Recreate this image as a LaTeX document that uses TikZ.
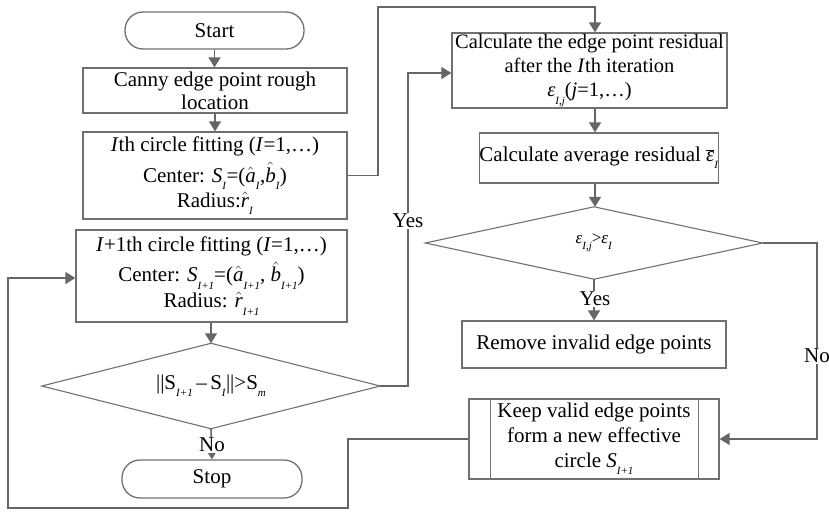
\documentclass[tikz,border=0pt]{standalone}
\usepackage{fontspec}
\setmainfont{Liberation Serif}
\usetikzlibrary{arrows.meta}
\definecolor{ln}{HTML}{666666}
\definecolor{bx}{HTML}{707070}
\newcommand\subx[1]{\raisebox{-0.35em}{\fontsize{11}{11}\selectfont\textit{#1}}}
\newcommand\hatx[1]{\ensuremath{\hat{\hbox{\textit{#1}}}}}
\newcommand\barx[1]{\ensuremath{\overline{\hbox{\textit{#1}}}}}
\tikzset{
  box/.style={draw=bx, line width=1.3pt, inner sep=0pt, align=center, font=\fontsize{21}{25}\selectfont},
  term/.style={box, rounded corners=18pt},
  hid/.style={inner sep=0pt},
  conn/.style={draw=ln, line width=1.6pt},
  arr/.style={conn, -{Triangle[length=10pt,width=12pt]}},
  lab/.style={fill=white, inner sep=1pt, font=\fontsize{21}{25}\selectfont}
}
\begin{document}
\begin{tikzpicture}[x=1pt,y=-1pt]
\useasboundingbox (0,0) rectangle (829,512);
% left column
\node[term, minimum width=179pt, minimum height=37pt] (start) at (214.5,30.5) {Start};
\node[box, minimum width=264pt, minimum height=45pt] (canny) at (215,90.5) {Canny edge point rough\\[-2pt]location};
\node[box, minimum width=264pt, minimum height=87pt] (ith) at (215,175.5)
 {\textit{I}th circle fitting (\textit{I}=1,\ldots)\\[6pt]
  Center: \textit{S}\subx{I}=(\hatx{a}\subx{I},\hatx{b}\subx{I})\\[0pt]
  Radius:\hatx{r}\subx{I}};
\node[box, minimum width=271pt, minimum height=92pt] (ip1) at (211.5,276)
 {\textit{I}+1th circle fitting (\textit{I}=1,\ldots)\\[5pt]
  Center: \textit{S}\subx{I+1}=(\hatx{a}\subx{I+1}, \hatx{b}\subx{I+1})\\[1pt]
  Radius: \hatx{r}\subx{I+1}};
\node[hid, minimum width=338pt, minimum height=85pt, font=\fontsize{21}{25}\selectfont] (d1) at (211,386)
 {||S\subx{I+1}{\,--\,}S\subx{I}||>S\subx{m}};
\draw[draw=bx, line width=1.1pt] (d1.north) -- (d1.east) -- (d1.south) -- (d1.west) -- cycle;
\node[term, minimum width=180pt, minimum height=38pt] (stop) at (212,479) {Stop};
% right column
\node[box, minimum width=275pt, minimum height=75pt, font=\fontsize{20.5}{24}\selectfont] (calc) at (589.5,70.5)
 {Calculate the edge point residual\\after the \textit{I}th iteration\\
  \textit{ε}\subx{I,j}(\textit{j}=1,\ldots)};
\node[box, minimum width=234pt, minimum height=50pt] (avg) at (599,158)
 {Calculate average residual \barx{ε}\subx{I}};
\node[hid, minimum width=337pt, minimum height=72pt, font=\fontsize{17}{20}\selectfont] (d2) at (594,243)
 {\textit{ε}\subx{I,j}>\textit{ε}\subx{I}};
\draw[draw=bx, line width=1.1pt] (d2.north) -- (d2.east) -- (d2.south) -- (d2.west) -- cycle;
\node[box, minimum width=264pt, minimum height=47pt] (remove) at (594,344.5) {Remove invalid edge points};
\node[box, minimum width=250pt, minimum height=80pt] (keep) at (594,439)
 {Keep valid edge points\\form a new effective\\circle \textit{S}\subx{I+1}};
\draw[draw=bx, line width=1.3pt] ([xshift=22pt]keep.north west) -- ([xshift=22pt]keep.south west);
\draw[draw=bx, line width=1.3pt] ([xshift=-21pt]keep.north east) -- ([xshift=-21pt]keep.south east);
% connectors
\draw[arr] (start.south) -- (start.south |- canny.north);
\draw[arr] (canny.south) -- (canny.south |- ith.north);
\coordinate (c1) at (378,7);
\coordinate (ctop) at ([xshift=5.5pt]calc.north);
\draw[arr] (ith.east) -| (c1) -| (ctop);
\coordinate (c2) at (408,386);
\draw[arr] (d1.east) -- (c2) |- (calc.west |- 0,73);
\node[lab] (yes1) at (408,221) {Yes};
\draw[arr] (ctop |- calc.south) -- (ctop |- avg.north);
\draw[arr] (ctop |- avg.south) -- (ctop |- d2.north);
\draw[arr] (d2.south) -- (remove.north);
\node[lab] (yes2) at (595,299) {Yes};
\coordinate (c3) at (817,243);
\draw[arr] (d2.east) -- (c3) |- (keep.east);
\node[lab] (no2) at (817,356) {No};
\coordinate (c4) at (348,439);
\coordinate (c5) at (348,508);
\coordinate (c6) at (8,508);
\coordinate (c7) at (8,278);
\draw[arr] (keep.west) -- (c4) -- (c5) -- (c6) -- (c7) -- (ip1.west |- c7);
\draw[arr] (ip1.south -| d1.north) -- (d1.north);
\draw[arr] (d1.south) -- (stop.north);
\node[lab] (no1) at (212,445) {No};
\end{tikzpicture}
\end{document}
